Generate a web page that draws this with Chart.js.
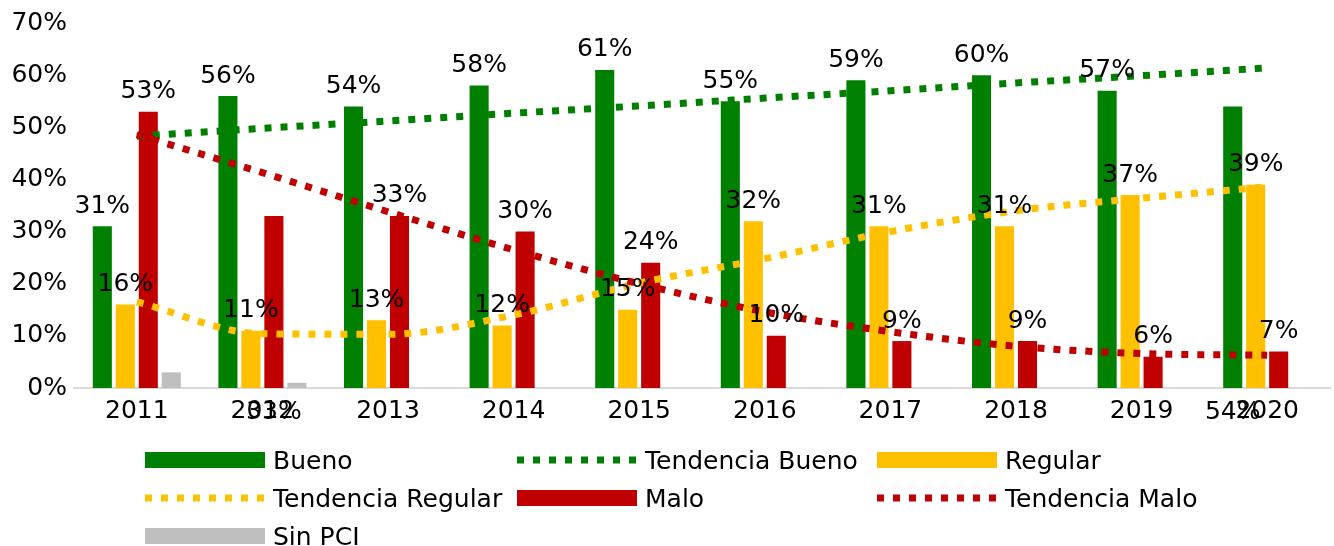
<!DOCTYPE html>
<html>
<head>
<meta charset="utf-8">
<script src="https://cdn.jsdelivr.net/npm/chart.js@4/dist/chart.umd.min.js"></script>
<style>
html,body{margin:0;padding:0;background:#fff;}
#wrap{width:1334px;height:546px;position:relative;}
</style>
</head>
<body>
<div id="wrap"><canvas id="c" width="1334" height="546"></canvas></div>
<script>
// ---- data ----
const categories = ['2011','2012','2013','2014','2015','2016','2017','2018','2019','2020'];
const bueno   = [31, 56, 54, 58, 61, 55, 59, 60, 57, 54];
const regular = [16, 11, 13, 12, 15, 32, 31, 31, 37, 39];
const malo    = [53, 33, 33, 30, 24, 10,  9,  9,  6,  7];
const sinPCI  = [3, 1, 0, 0, 0, 0, 0, 0, 0, 0];
const tendenciaBueno   = [48.3, 49.8, 51.2, 52.7, 54.1, 55.6, 57.0, 58.5, 59.9, 61.4];
const tendenciaRegular = [16.5, 10.4, 10.3, 14.0, 20.1, 24.8, 30.0, 34.0, 36.4, 38.6];
const tendenciaMalo    = [48.6, 41.3, 33.8, 26.5, 20.0, 14.6, 10.8, 8.0, 6.6, 6.3];
const yTicks = [0, 10, 20, 30, 40, 50, 60, 70];
// labels that the original shows down at the category axis
const buenoLabelsAtAxis = [9];
const maloLabelsAtAxis = [1];

const GREEN = '#008000', YELLOW = '#FFC000', RED = '#C00000', GREY = '#BFBFBF';
const FONT = '"DejaVu Sans", sans-serif';
const FS = 25;

const datasets = [
  {type:'bar', label:'Bueno', data:bueno, backgroundColor:GREEN, order:3, showLabels:true, axisIdx:buenoLabelsAtAxis},
  {type:'bar', label:'Regular', data:regular, backgroundColor:YELLOW, order:3, showLabels:true, axisIdx:[]},
  {type:'bar', label:'Malo', data:malo, backgroundColor:RED, order:3, showLabels:true, axisIdx:maloLabelsAtAxis},
  {type:'bar', label:'Sin PCI', data:sinPCI, backgroundColor:GREY, order:3, showLabels:false, axisIdx:[]},
  {type:'line', label:'Tendencia Bueno', data:tendenciaBueno, borderColor:GREEN, order:2},
  {type:'line', label:'Tendencia Regular', data:tendenciaRegular, borderColor:YELLOW, order:1},
  {type:'line', label:'Tendencia Malo', data:tendenciaMalo, borderColor:RED, order:0}
];
datasets.forEach(d => {
  if (d.type === 'line') {
    Object.assign(d, {borderWidth:7, borderDash:[7,9], borderCapStyle:'butt', pointRadius:0,
      fill:false, tension:0.4, cubicInterpolationMode:'monotone'});
  } else {
    Object.assign(d, {categoryPercentage:0.732, barPercentage:0.83});
  }
});

const legendOrder = ['Bueno','Tendencia Bueno','Regular','Tendencia Regular','Malo','Tendencia Malo','Sin PCI'];

const labelPlugin = {
  id:'barLabels',
  afterDatasetsDraw(chart){
    const ctx = chart.ctx;
    ctx.save();
    ctx.font = FS + 'px ' + FONT;
    ctx.fillStyle = '#000';
    ctx.textAlign = 'center';
    ctx.textBaseline = 'middle';
    chart.data.datasets.forEach((ds, i) => {
      if (!ds.showLabels) return;
      const meta = chart.getDatasetMeta(i);
      meta.data.forEach((el, j) => {
        const txt = ds.data[j] + '%';
        if (ds.axisIdx.includes(j)) ctx.fillText(txt, el.x, chart.chartArea.bottom + 24);
        else ctx.fillText(txt, el.x, el.y - 20);
      });
    });
    ctx.restore();
  }
};

const legendPlugin = {
  id:'gridLegend',
  afterDraw(chart){
    const ctx = chart.ctx;
    const colX = [145, 517, 877];
    const rowY = [460, 498, 536];
    ctx.save();
    ctx.font = FS + 'px ' + FONT;
    ctx.textAlign = 'left';
    ctx.textBaseline = 'middle';
    legendOrder.forEach((name, k) => {
      const ds = chart.data.datasets.find(d => d.label === name);
      const x = colX[k % 3], y = rowY[Math.floor(k / 3)];
      if (ds.type === 'line') {
        ctx.strokeStyle = ds.borderColor;
        ctx.lineWidth = ds.borderWidth;
        ctx.setLineDash(ds.borderDash);
        ctx.lineCap = 'butt';
        ctx.beginPath(); ctx.moveTo(x, y); ctx.lineTo(x + 120, y); ctx.stroke();
        ctx.setLineDash([]);
      } else {
        ctx.fillStyle = ds.backgroundColor;
        ctx.fillRect(x, y - 8, 120, 16);
      }
      ctx.fillStyle = '#000';
      ctx.fillText(name, x + 128, y + 2);
    });
    ctx.restore();
  }
};

new Chart(document.getElementById('c'), {
  data:{labels:categories, datasets:datasets},
  options:{
    responsive:false,
    animation:false,
    layout:{padding:{top:23, right:4, bottom:114, left:0}},
    plugins:{legend:{display:false}, tooltip:{enabled:false}},
    scales:{
      x:{
        grid:{display:false, drawTicks:false},
        border:{display:true, color:'#D9D9D9', width:2},
        ticks:{font:{family:FONT, size:FS}, color:'#000', padding:8, maxRotation:0, autoSkip:false},
        afterFit(s){ s.height = 44; }
      },
      y:{
        min:0, max:70,
        afterBuildTicks(s){ s.ticks = yTicks.map(v => ({value:v})); },
        grid:{display:false, drawTicks:false},
        border:{display:false},
        ticks:{font:{family:FONT, size:FS}, color:'#000', padding:7, callback:v => v + '%'},
        afterFit(s){ s.width = 74; }
      }
    }
  },
  plugins:[labelPlugin, legendPlugin]
});
</script>
</body>
</html>
